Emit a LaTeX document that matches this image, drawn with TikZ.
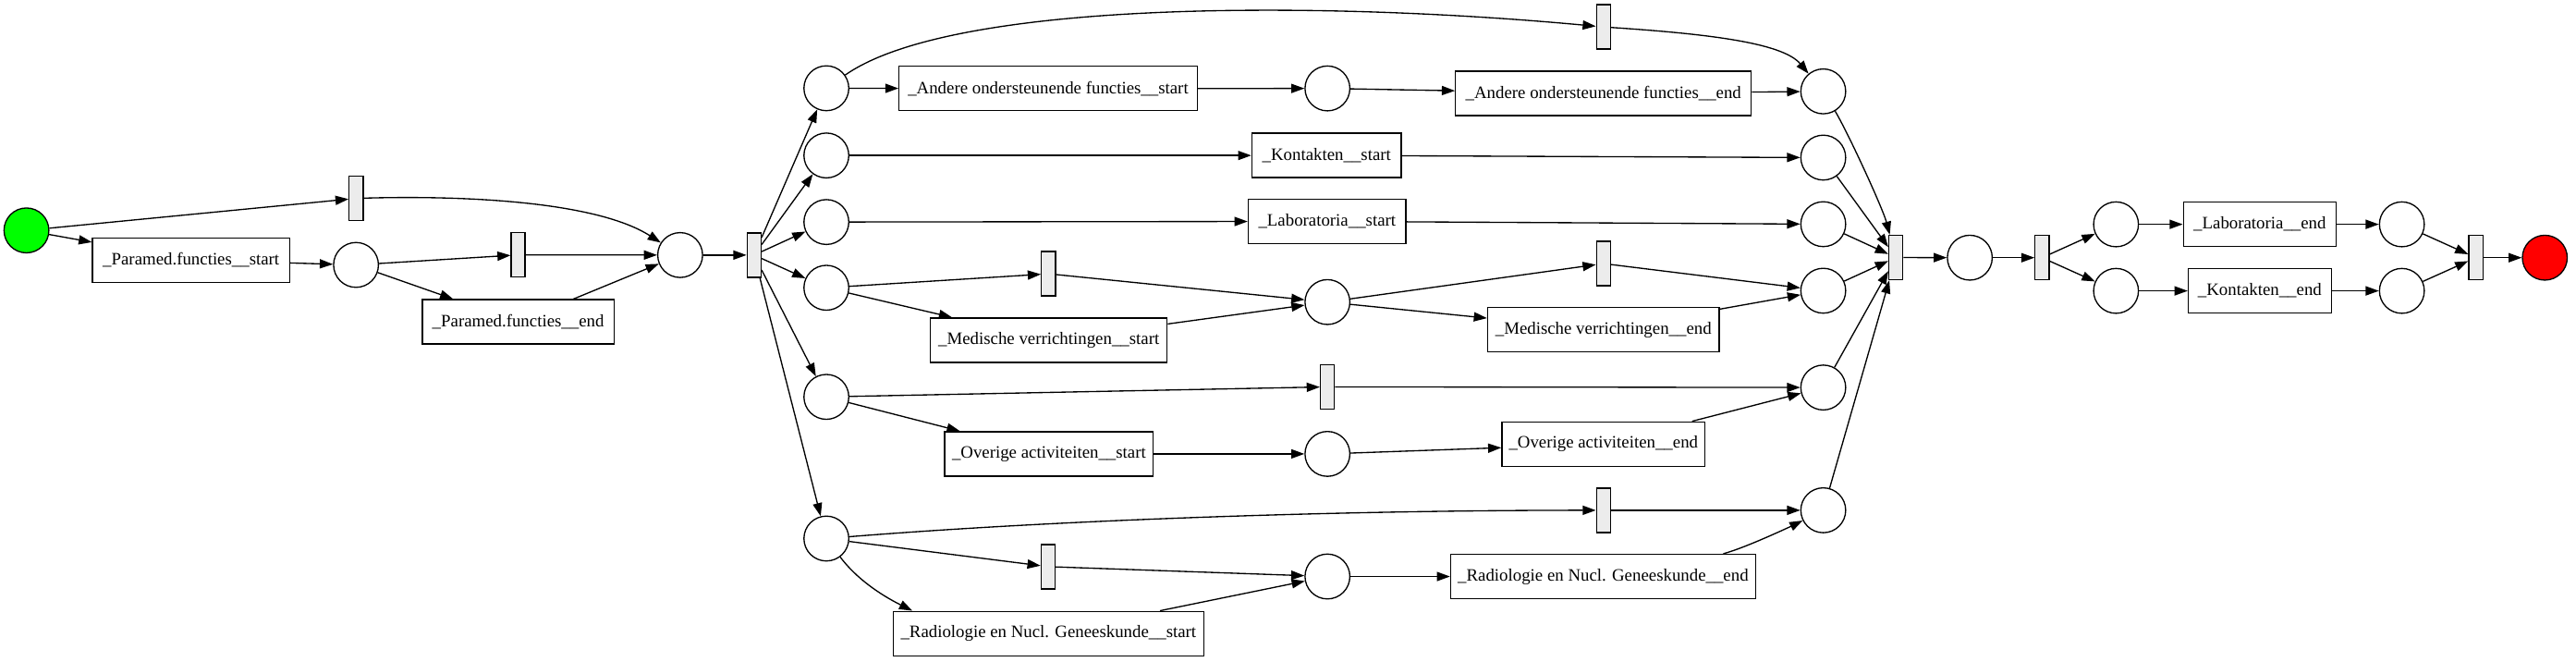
\documentclass[tikz,border=0pt]{standalone}
\usepackage{fontspec}
\setmainfont{Liberation Serif}
\usetikzlibrary{arrows.meta}
\begin{document}
\begin{tikzpicture}[x=1pt,y=-1pt,
  place/.style={circle,draw,line width=0.75pt,minimum size=27.3pt,inner sep=0pt,fill=white},
  trans/.style={rectangle,draw,line width=0.75pt,fill=gray!15,minimum width=8.5pt,minimum height=27pt,inner sep=0pt},
  task/.style={rectangle,draw,line width=0.75pt,fill=white,minimum height=27pt,inner xsep=4pt,inner ysep=0pt,font=\fontsize{10.6}{12}\selectfont},
  arc/.style={-{Triangle[length=8pt,width=5.6pt]},line width=0.75pt}]
\useasboundingbox (0,0) rectangle (1568,402.3);
% left part
\node[place,fill={rgb,255:red,0;green,255;blue,0}] (g) at (16.1,140.2) {};
\node[trans] (t1) at (216.8,120.7) {};
\node[task,minimum width=120pt] (pS) at (116.3,158.2) {\_Paramed.functies\_\_start};
\node[place] (pA) at (216.7,161.2) {};
\node[trans] (t2) at (315.4,155.1) {};
\node[task,minimum width=116.6pt] (pE) at (315.4,195.8) {\_Paramed.functies\_\_end};
\node[place] (pB) at (414,155.2) {};
\node[trans] (tS) at (459,155.2) {};
% middle places
\node[place] (P1) at (503,53.7) {};
\node[place] (P2) at (503,94.6) {};
\node[place] (P3) at (503,135.1) {};
\node[place] (P4) at (503,175.1) {};
\node[place] (P5) at (503,241.5) {};
\node[place] (P6) at (503,327.7) {};
% row 1
\node[task,minimum width=181.5pt] (aS) at (638,53.9) {\_Andere ondersteunende functies\_\_start};
\node[place] (Q1) at (808,53.8) {};
\node[task,minimum width=180pt] (aE) at (976,56.9) {\_Andere ondersteunende functies\_\_end};
\node[trans] (tT) at (976,16.4) {};
\node[place] (R1) at (1109.8,55.6) {};
% row 2,3
\node[task,minimum width=91pt] (kS) at (807.5,94.6) {\_Kontakten\_\_start};
\node[place] (R2) at (1109.8,95.9) {};
\node[task,minimum width=96pt] (lS) at (807.8,134.7) {\_Laboratoria\_\_start};
\node[place] (R3) at (1109.8,136.4) {};
% medische
\node[trans] (tM1) at (638.2,166.6) {};
\node[task,minimum width=144pt] (mS) at (638.4,207) {\_Medische verrichtingen\_\_start};
\node[place] (Q2) at (808,183.8) {};
\node[trans] (tM2) at (976,160.4) {};
\node[task,minimum width=141pt] (mE) at (976,200.7) {\_Medische verrichtingen\_\_end};
\node[place] (R4) at (1109.8,176.9) {};
% overige
\node[trans] (tO) at (808,235.4) {};
\node[task,minimum width=127pt] (oS) at (638.5,276.2) {\_Overige activiteiten\_\_start};
\node[place] (Q3) at (808,276.2) {};
\node[task,minimum width=123.6pt] (oE) at (976,270.2) {\_Overige activiteiten\_\_end};
\node[place] (R5) at (1109.8,235.8) {};
% radiologie
\node[trans] (tRT) at (976,310.5) {};
\node[trans] (tR1) at (638,344.8) {};
\node[task,minimum width=189pt] (rS) at (638.2,385.5) {\_Radiologie en Nucl. Geneeskunde\_\_start};
\node[place] (Q4) at (808,350.8) {};
\node[task,minimum width=185.6pt] (rE) at (975.8,350.8) {\_Radiologie en Nucl. Geneeskunde\_\_end};
\node[place] (R6) at (1109.8,310.5) {};
% right part
\node[trans] (tJ) at (1154,156.7) {};
\node[place] (S) at (1199,156.8) {};
\node[trans] (tS2) at (1243,156.8) {};
\node[place] (U1) at (1288,136.5) {};
\node[place] (U2) at (1288,177) {};
\node[task,minimum width=93pt] (lE) at (1375.5,136.5) {\_Laboratoria\_\_end};
\node[task,minimum width=87pt] (kE) at (1375.5,177) {\_Kontakten\_\_end};
\node[place] (V1) at (1462,136.5) {};
\node[place] (V2) at (1462,177) {};
\node[trans] (tF) at (1507,156.8) {};
\node[place,fill={rgb,255:red,255;green,0;blue,0}] (red) at (1549,156.8) {};
% edges left
\draw[arc] (g) -- (t1);
\draw[arc] (g) -- (pS);
\draw[arc] (t1) .. controls +(70,-2) and +(-50,-32) .. (pB);
\draw[arc] (pS) -- (pA);
\draw[arc] (pA) -- (t2);
\draw[arc] (pA) -- (pE);
\draw[arc] (t2) -- (pB);
\draw[arc] (pE) -- (pB);
\draw[arc] (pB) -- (tS);
\foreach \p in {P1,P2,P3,P4,P5,P6} \draw[arc] (tS) -- (\p);
% row 1
\draw[arc] (P1) -- (aS);
\draw[arc] (aS) -- (Q1);
\draw[arc] (Q1) -- (aE);
\draw[arc] (aE) -- (R1);
\draw[arc] (P1) .. controls +(77,-54) and +(-172,-16) .. (tT);
\draw[arc] (tT) .. controls +(60,4) and +(-25,-30) .. (R1);
% row 2,3
\draw[arc] (P2) -- (kS);
\draw[arc] (kS) -- (R2);
\draw[arc] (P3) -- (lS);
\draw[arc] (lS) -- (R3);
% medische
\draw[arc] (P4) -- (tM1);
\draw[arc] (P4) -- (mS);
\draw[arc] (tM1) -- (Q2);
\draw[arc] (mS) -- (Q2);
\draw[arc] (Q2) -- (tM2);
\draw[arc] (Q2) -- (mE);
\draw[arc] (tM2) -- (R4);
\draw[arc] (mE) -- (R4);
% overige
\draw[arc] (P5) -- (tO);
\draw[arc] (tO) -- (R5);
\draw[arc] (P5) -- (oS);
\draw[arc] (oS) -- (Q3);
\draw[arc] (Q3) -- (oE);
\draw[arc] (oE) -- (R5);
% radiologie
\draw[arc] (P6) .. controls +(150,-12) and +(-150,0) .. (tRT);
\draw[arc] (tRT) -- (R6);
\draw[arc] (P6) -- (tR1);
\draw[arc] (tR1) -- (Q4);
\draw[arc] (P6) .. controls +(18,24) and +(-20,-10) .. ([xshift=12pt]rS.north west);
\draw[arc] (rS) -- (Q4);
\draw[arc] (Q4) -- (rE);
\draw[arc] ([xshift=-20pt]rE.north east) .. controls +(15,-4) and +(-14,7) .. (R6);
% join
\draw[arc] (R1) .. controls +(15,25) and +(-8,-30) .. (tJ);
\foreach \r in {R2,R3,R4,R5,R6} \draw[arc] (\r) -- (tJ);
\draw[arc] (tJ) -- (S);
\draw[arc] (S) -- (tS2);
\draw[arc] (tS2) -- (U1);
\draw[arc] (tS2) -- (U2);
\draw[arc] (U1) -- (lE);
\draw[arc] (lE) -- (V1);
\draw[arc] (U2) -- (kE);
\draw[arc] (kE) -- (V2);
\draw[arc] (V1) -- (tF);
\draw[arc] (V2) -- (tF);
\draw[arc] (tF) -- (red);
\end{tikzpicture}
\end{document}
